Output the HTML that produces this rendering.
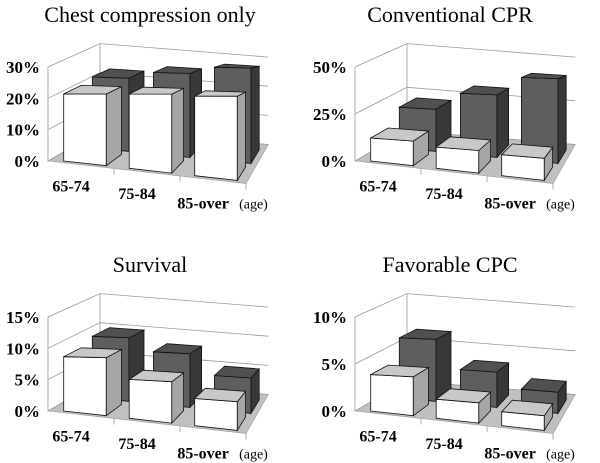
<!DOCTYPE html>
<html><head><meta charset="utf-8"><style>
body{margin:0;background:#fff;}
svg{display:block;font-family:"Liberation Serif",serif;}
</style></head><body>
<svg id="c" width="600" height="463" viewBox="0 0 600 463"></svg>
<script>
const categories = ["65-74","75-84","85-over"];
const titles = ["Chest compression only","Conventional CPR","Survival","Favorable CPC"];
const maxVals = [30,50,15,10];
const tickVals = [[0,10,20,30],[0,25,50],[0,5,10,15],[0,5,10]];
const whiteVals = [[21,21,20.5],[12,10,9],[8.5,5.5,3.5],[3.8,1.8,1.2]];
const darkVals = [[23,25,27],[22,31,40],[10,8,5],[6.5,3.5,2]];

const NS="http://www.w3.org/2000/svg";
const svg=document.getElementById('c');
function el(tag,attrs,parent){const e=document.createElementNS(NS,tag);for(const k in attrs)e.setAttribute(k,attrs[k]);(parent||svg).appendChild(e);return e;}
const origins=[[48,161],[355,161],[48,411],[355,411]];
const titlePos=[[150,22],[450,22],[150,272],[450,272]];
const EX=[66,7.5], EZ=[52,-30], AXH=94;

for(let p=0;p<4;p++){
  const g=el('g',{});
  
  
  const O=origins[p], ky=AXH/maxVals[p];
  const P=(x,z,y)=>{const f=(1+0.35*x/3*(1-z))*(1-0.07*z);return [O[0]+x*EX[0]*(1-0.15*z)+z*EZ[0], O[1]+x*EX[1]*(1-0.4*z)+z*EZ[1]-y*ky*f];};
  const pts=a=>a.map(q=>q[0].toFixed(1)+','+q[1].toFixed(1)).join(' ');
  const t=el('text',{x:titlePos[p][0],y:titlePos[p][1],'text-anchor':'middle','font-size':22},g);
  t.textContent=titles[p];
  
  
  const fl=el('polygon',{points:pts([P(0,0,0),P(3,0,0),P(3,1,0),P(0,1,0)]),fill:'#c0c0c0',stroke:'#999','stroke-width':0.6},g);
  
  
  el('line',{x1:P(0,0,0)[0],y1:P(0,0,0)[1],x2:P(0,0,maxVals[p])[0],y2:P(0,0,maxVals[p])[1],stroke:'#999','stroke-width':0.8},g);
  el('line',{x1:P(0,1,0)[0],y1:P(0,1,0)[1],x2:P(0,1,maxVals[p])[0],y2:P(0,1,maxVals[p])[1],stroke:'#999','stroke-width':0.8},g);
  for(const tv of tickVals[p]){
    const gl=el('polyline',{points:pts([P(0,0,tv),P(0,1,tv),P(3,1,tv)]),fill:'none',stroke:'#999','stroke-width':0.8},g);
    
    
    const a=P(0,0,tv);
    const tl=el('text',{x:a[0]-8,y:a[1]+6,'text-anchor':'end','font-size':17,'font-weight':'bold'},g);
    tl.textContent=tv+'%';
    
    
  }
  for(let i=1;i<=3;i++){const a=P(i,0,0);el('line',{x1:a[0],y1:a[1],x2:a[0],y2:a[1]+6,stroke:'#999','stroke-width':0.8},g);}
  function bar(i,v,x0,x1,z0,z1,cf,ct,cs,name){
    const bg=el('g',{stroke:'#111','stroke-width':0.8},g);
    
    
    el('polygon',{points:pts([P(i+x0,z0,0),P(i+x1,z0,0),P(i+x1,z0,v),P(i+x0,z0,v)]),fill:cf},bg);
    el('polygon',{points:pts([P(i+x1,z0,0),P(i+x1,z1,0),P(i+x1,z1,v),P(i+x1,z0,v)]),fill:cs},bg);
    el('polygon',{points:pts([P(i+x0,z0,v),P(i+x1,z0,v),P(i+x1,z1,v),P(i+x0,z1,v)]),fill:ct},bg);
  }
  for(let i=0;i<3;i++) bar(i,darkVals[p][i],0.3,0.9,0.5,0.85,'#5e5e5e','#505050','#383838','bar-conventional-'+categories[i]);
  for(let i=0;i<3;i++) bar(i,whiteVals[p][i],0.2,0.85,0.05,0.4,'#ffffff','#c8c8c8','#a6a6a6','bar-compression-'+categories[i]);
  for(let i=0;i<3;i++){
    const a=P(i+0.35,0,0);
    const cl=el('text',{x:a[0],y:a[1]+(i==2?30:28),'text-anchor':'middle','font-size':16,'font-weight':'bold'},g);
    cl.textContent=categories[i];
    
    
    if(i==2){
      const ag=el('text',{x:a[0]+36,y:a[1]+30,'font-size':14},g);
      ag.textContent='(age)';
      
      
    }
  }
}
</script>
</body></html>
